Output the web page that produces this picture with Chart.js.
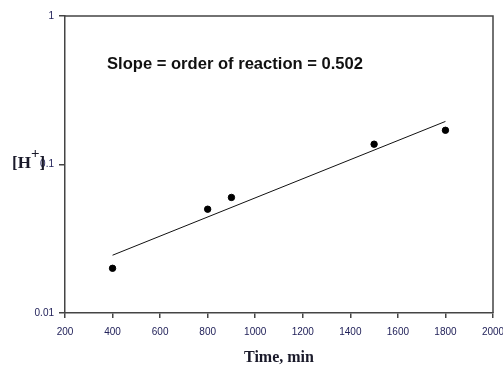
<!DOCTYPE html>
<html>
<head>
<meta charset="utf-8">
<script src="https://cdn.jsdelivr.net/npm/chart.js@4"></script>
<style>
  html, body { margin: 0; padding: 0; background: #fff; }
  #wrap { width: 503px; height: 365px; position: relative; }
</style>
</head>
<body>
<div id="wrap"><canvas id="c" width="503" height="365"></canvas></div>
<script>
// Data
const times = [400, 800, 900, 1500, 1800];
const concentration = [0.020, 0.050, 0.060, 0.137, 0.170];
const fitTimes = [400, 1800];
const fitValues = [0.0245, 0.195];
const xTicks = [200, 400, 600, 800, 1000, 1200, 1400, 1600, 1800, 2000];
const yTicks = [0.01, 0.1, 1];
const annotationText = 'Slope = order of reaction = 0.502';
const xTitle = 'Time, min';

const tickColor = '#22225a';
const axisColor = '#444444';

const overlay = {
  id: 'overlay',
  afterDraw(chart) {
    const ctx = chart.ctx;
    const a = chart.chartArea;
    ctx.save();
    // box frame (top and right)
    ctx.strokeStyle = axisColor;
    ctx.lineWidth = 1.5;
    ctx.beginPath();
    ctx.moveTo(a.left, a.top);
    ctx.lineTo(a.right, a.top);
    ctx.lineTo(a.right, a.bottom);
    ctx.stroke();

    // annotation
    ctx.fillStyle = '#111';
    ctx.font = 'bold 16px "Liberation Sans", Arial, sans-serif';
    ctx.textAlign = 'left';
    ctx.textBaseline = 'alphabetic';
    const target = 256;
    const tw = ctx.measureText(annotationText).width;
    ctx.save();
    ctx.translate(107, 69);
    ctx.scale(target / tw, 1);
    ctx.fillText(annotationText, 0, 0);
    ctx.restore();

    // x title
    ctx.font = 'bold 16px "Liberation Serif", "Times New Roman", serif';
    ctx.textAlign = 'center';
    ctx.fillStyle = '#1a1a2a';
    ctx.fillText(xTitle, (a.left + a.right) / 2, 362);

    // y title [H+]
    ctx.textAlign = 'left';
    ctx.font = 'bold 17px "Liberation Serif", "Times New Roman", serif';
    ctx.fillText('[H', 12, 168);
    let w = ctx.measureText('[H').width;
    ctx.font = 'bold 15px "Liberation Serif", "Times New Roman", serif';
    ctx.fillText('+', 12 + w, 158);
    let w2 = ctx.measureText('+').width;
    ctx.font = 'bold 17px "Liberation Serif", "Times New Roman", serif';
    ctx.fillText(']', 12 + w + w2, 168);
    ctx.restore();
  }
};

new Chart(document.getElementById('c'), {
  type: 'scatter',
  data: {
    datasets: [
      {
        label: 'data',
        data: times.map((t, i) => ({ x: t, y: concentration[i] })),
        backgroundColor: '#000',
        borderColor: '#000',
        pointRadius: 3.2,
        pointHoverRadius: 3.2,
        showLine: false
      },
      {
        label: 'fit',
        data: fitTimes.map((t, i) => ({ x: t, y: fitValues[i] })),
        borderColor: '#111',
        borderWidth: 1,
        pointRadius: 0,
        showLine: true,
        fill: false
      }
    ]
  },
  options: {
    responsive: false,
    animation: false,
    devicePixelRatio: 1,
    layout: { padding: { left: 0, right: 10, top: 16, bottom: 0 } },
    plugins: { legend: { display: false }, tooltip: { enabled: false } },
    scales: {
      x: {
        type: 'linear',
        min: 200,
        max: 2000,
        afterBuildTicks(scale) { scale.ticks = xTicks.map(v => ({ value: v })); },
        afterFit(scale) { scale.height = 52; scale.paddingLeft = 0; scale.paddingRight = 0; },
        ticks: {
          color: tickColor,
          font: { family: '"Liberation Sans", Arial, sans-serif', size: 10 },
          padding: 8,
          maxRotation: 0,
          autoSkip: false,
          callback: v => String(v)
        },
        grid: { drawOnChartArea: false, tickLength: 5, color: axisColor, lineWidth: 1.5 },
        border: { display: true, color: axisColor, width: 1.5 }
      },
      y: {
        type: 'logarithmic',
        min: 0.01,
        max: 1,
        afterBuildTicks(scale) { scale.ticks = yTicks.map(v => ({ value: v })); },
        afterFit(scale) { scale.width = 65; scale.paddingTop = 0; scale.paddingBottom = 0; },
        ticks: {
          color: tickColor,
          font: { family: '"Liberation Sans", Arial, sans-serif', size: 10 },
          padding: 5,
          autoSkip: false,
          callback: v => String(v)
        },
        grid: { drawOnChartArea: false, tickLength: 6, color: axisColor, lineWidth: 1.5 },
        border: { display: true, color: axisColor, width: 1.5 }
      }
    }
  },
  plugins: [overlay]
});
</script>
</body>
</html>
